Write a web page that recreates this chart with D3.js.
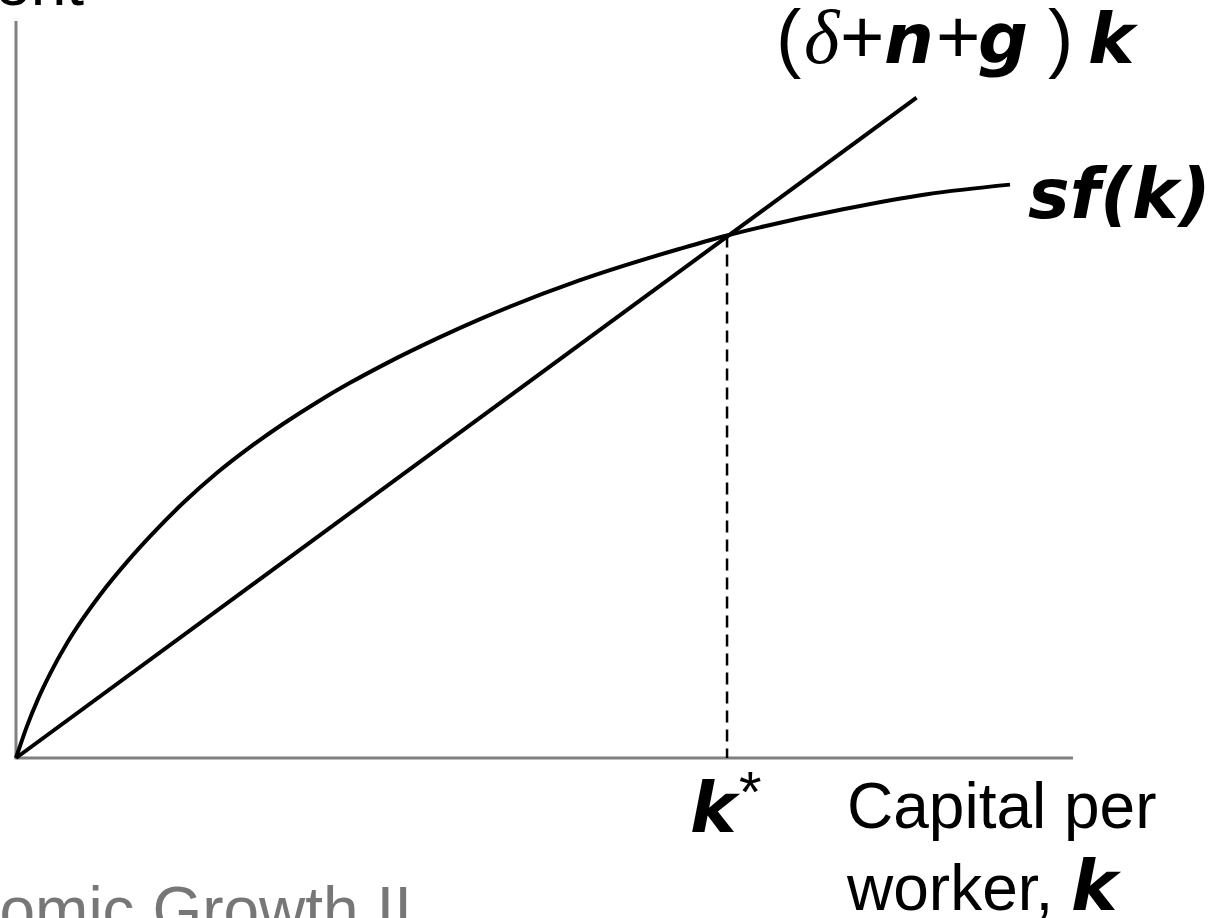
<!DOCTYPE html>
<html>
<head>
<meta charset="utf-8">
<script src="https://cdn.jsdelivr.net/npm/d3@7"></script>
<style>
  html, body { margin: 0; padding: 0; background: #fff; overflow: hidden; }
  svg { display: block; }
</style>
</head>
<body>
<svg id="chart" width="1211" height="918"></svg>
<script>
// capital per worker (k) and saving per worker sf(k)
var kValues  = [0, 1.04, 2.08, 3.22, 4.82, 6.34, 7.95, 10.79, 12.68, 15.80, 19.02, 22.14, 25.26, 28.48, 31.60, 34.72, 40.11, 43.90, 53.36, 62.82, 67.27, 70.39, 78.24, 86.19, 94.04];
var sfValues = [0, 4.33, 7.99, 11.41, 15.56, 18.93, 22.12, 27.08, 30.07, 34.59, 38.70, 42.18, 45.32, 48.28, 50.90, 53.31, 57.10, 59.54, 64.83, 69.10, 70.90, 72.00, 74.45, 76.50, 77.80];

// break-even investment line (delta+n+g)k
var breakEvenK = [0, 85.2];
var breakEvenV = [0, 89.6];

// steady state
var kStar = 67.27,
    vStar = 70.9;

var svg = d3.select("#chart");

var x = d3.scaleLinear().domain([0, 100]).range([16, 1073]),
    y = d3.scaleLinear().domain([0, 100]).range([758, 21]);

var boldItalic = "'DejaVu Sans', Verdana, sans-serif",
    plain = "'Liberation Sans', Arial, sans-serif";

function bi(sel) {
    return sel.style("font-family", boldItalic).style("font-weight", "bold").style("font-style", "oblique");
}

//Axes, drawn as plain grey lines without ticks
svg.append("line")
    .attr("x1", x(0)).attr("y1", y(0))
    .attr("x2", x(0)).attr("y2", y(100))
    .attr("stroke", "#808080").attr("stroke-width", 3);
svg.append("line")
    .attr("x1", x(0) - 1.5).attr("y1", y(0))
    .attr("x2", x(100)).attr("y2", y(0))
    .attr("stroke", "#808080").attr("stroke-width", 3);

//Dashed drop line from the steady state
svg.append("line")
    .attr("x1", x(kStar)).attr("y1", y(vStar))
    .attr("x2", x(kStar)).attr("y2", y(0))
    .attr("stroke", "#000").attr("stroke-width", 2.5)
    .attr("stroke-dasharray", "12,7");

//sf(k) curve
var sfLine = d3.line()
    .x(function(d, i) { return x(kValues[i]); })
    .y(function(d) { return y(d); })
    .curve(d3.curveMonotoneX);

svg.append("path")
    .datum(sfValues)
    .attr("d", sfLine)
    .attr("fill", "none")
    .attr("stroke", "#000")
    .attr("stroke-width", 4)
    .attr("stroke-linejoin", "round");

//break-even line
var beLine = d3.line()
    .x(function(d, i) { return x(breakEvenK[i]); })
    .y(function(d) { return y(d); });

svg.append("path")
    .datum(breakEvenV)
    .attr("d", beLine)
    .attr("fill", "none")
    .attr("stroke", "#000")
    .attr("stroke-width", 4);

///////////////////////////////////////////////////////////////////////////
//////////////////////////////// Labels ///////////////////////////////////
///////////////////////////////////////////////////////////////////////////

//y axis title, cut off at the top
svg.append("text")
    .attr("x", 84).attr("y", 5)
    .attr("text-anchor", "end")
    .style("font-family", plain).style("font-size", "64px")
    .attr("fill", "#000")
    .text("Investment");

//(delta+n+g)k
var beLabel = svg.append("text")
    .attr("y", 63)
    .attr("fill", "#000");
beLabel.append("tspan").attr("x", 776).style("font-family", plain).style("font-size", "76px").text("(");
beLabel.append("tspan").attr("x", 804).style("font-family", "'Liberation Serif', serif").style("font-style", "italic").style("font-size", "76px").text("\u03B4");
beLabel.append("tspan").attr("x", 840).style("font-family", plain).style("font-size", "76px").text("+");
bi(beLabel.append("tspan").attr("x", 884).style("font-size", "70px")).text("n");
beLabel.append("tspan").attr("x", 936).style("font-family", plain).style("font-size", "76px").text("+");
bi(beLabel.append("tspan").attr("x", 978).style("font-size", "70px")).text("g");
beLabel.append("tspan").attr("x", 1048).style("font-family", plain).style("font-size", "76px").text(")");
bi(beLabel.append("tspan").attr("x", 1088).style("font-size", "70px")).text("k");

//sf(k)
bi(svg.append("text")
    .attr("x", 1028).attr("y", 218)
    .style("font-size", "70px")
    .attr("fill", "#000"))
    .text("sf(k)");

//k*
var kLabel = svg.append("text")
    .attr("x", 690).attr("y", 832)
    .attr("fill", "#000");
bi(kLabel.append("tspan").style("font-size", "70px")).text("k");
kLabel.append("tspan")
    .attr("dy", -20)
    .style("font-family", plain).style("font-style", "italic")
    .style("font-size", "58px")
    .text("*");

//x axis title
svg.append("text")
    .attr("x", 847).attr("y", 828)
    .style("font-family", plain).style("font-size", "64px")
    .attr("fill", "#000")
    .text("Capital per");
var xTitle = svg.append("text")
    .attr("x", 847).attr("y", 910)
    .style("font-size", "64px")
    .attr("fill", "#000");
xTitle.append("tspan").style("font-family", plain).text("worker, ");
bi(xTitle.append("tspan").style("font-size", "70px")).text("k");

//footer, cut off at the bottom
svg.append("text")
    .attr("x", 412).attr("y", 932)
    .attr("text-anchor", "end")
    .style("font-family", plain).style("font-size", "64px")
    .attr("fill", "#777")
    .text("Economic Growth II");
</script>
</body>
</html>
